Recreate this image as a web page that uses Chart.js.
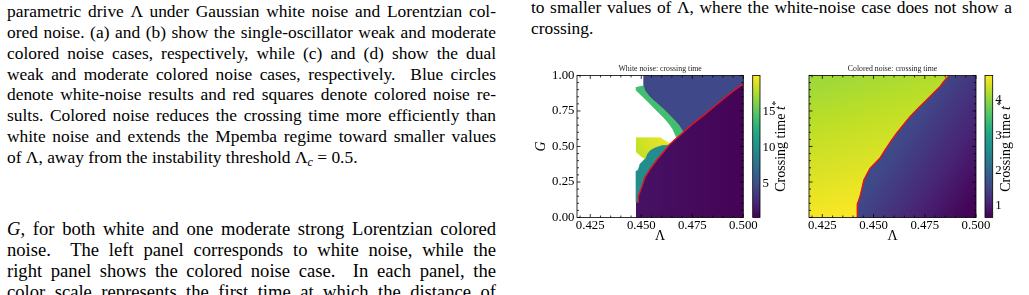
<!DOCTYPE html>
<html><head><meta charset="utf-8">
<script src="https://cdn.jsdelivr.net/npm/chart.js@4.4.1/dist/chart.umd.min.js"></script>
<style>
html,body{margin:0;padding:0;background:#fff;}
body{width:1029px;height:295px;overflow:hidden;position:relative;font-family:"Liberation Serif","Times New Roman",serif;color:#000;}
.blk{position:absolute;line-height:20.85px;}
.blk div{height:20.85px;white-space:nowrap;}
sub{font-size:70%;line-height:0;vertical-align:-0.25em;}
canvas{position:absolute;}
</style></head><body>

<div class="blk" style="left:7px;top:1px;width:489px;font-size:17.4px">
<div class="j">parametric drive Λ under Gaussian white noise and Lorentzian col-</div>
<div class="j">ored noise. (a) and (b) show the single-oscillator weak and moderate</div>
<div class="j">colored noise cases, respectively, while (c) and (d) show the dual</div>
<div class="j">weak and moderate colored noise cases, respectively.&nbsp; Blue circles</div>
<div class="j">denote white-noise results and red squares denote colored noise re-</div>
<div class="j">sults. Colored noise reduces the crossing time more efficiently than</div>
<div class="j">white noise and extends the Mpemba regime toward smaller values</div>
<div class="e">of Λ, away from the instability threshold Λ<sub><i>c</i></sub> = 0.5.</div>
</div>

<div class="blk" style="left:7px;top:219.4px;width:489px;font-size:18.6px">
<div class="j"><i>G</i>, for both white and one moderate strong Lorentzian colored</div>
<div class="j">noise.&nbsp; The left panel corresponds to white noise, while the</div>
<div class="j">right panel shows the colored noise case.&nbsp; In each panel, the</div>
<div class="j">color scale represents the first time at which the distance of</div>
</div>

<div class="blk" style="left:531px;top:-3.3px;width:481px;font-size:17.4px">
<div class="j">to smaller values of Λ, where the white-noise case does not show a</div>
<div class="e">crossing.</div>
</div>

<canvas id="cWhite" width="232" height="190" style="left:528px;top:60px"></canvas>
<canvas id="cWhiteBar" width="52" height="190" style="left:748px;top:60px"></canvas>
<canvas id="cColored" width="200" height="190" style="left:798px;top:60px"></canvas>
<canvas id="cColoredBar" width="49" height="190" style="left:980px;top:60px"></canvas>

<script>
// justify each line exactly to its column width (no wrapping)
document.querySelectorAll('.j').forEach(el => {
  const W = el.parentElement.clientWidth;
  const r = document.createRange(); r.selectNodeContents(el);
  const w = r.getBoundingClientRect().width;
  const n = (el.textContent.match(/[ \u00a0]/g) || []).length;
  if (n > 0) el.style.wordSpacing = ((W - w) / n) + 'px';
});

// ---------------- data ----------------
const lambdaRange = [0.4185, 0.5];
const gRange = [0, 1];
const lambdaTicks = [0.425, 0.450, 0.475, 0.500];
const gTicks = [0.00, 0.25, 0.50, 0.75, 1.00];
const whiteBarTicks = [5, 10, 15];
const coloredBarTicks = [1, 2, 3, 4];
const whiteTRange = [0.35, 20.0];
const coloredTRange = [0.67, 4.69];

// White noise: crossing boundary (red line)
const whiteEdgeLam = [0.4485, 0.4485, 0.4502, 0.4518, 0.4543, 0.4576, 0.4608, 0.4641, 0.4674, 0.4706, 0.4755, 0.4804, 0.4853, 0.4902, 0.4943, 0.4987, 0.5000];
const whiteEdgeG   = [0.107, 0.150, 0.213, 0.283, 0.341, 0.405, 0.459, 0.518, 0.560, 0.600, 0.663, 0.717, 0.776, 0.834, 0.882, 0.928, 0.935];
// White noise regions (Λ, G outlines) and crossing times t*
const whiteFastLamLeft = 0.4474;
const whiteFastT = [1.3, 0.45];           // purple region, left -> right
const whiteBlueLam = [0.4510, 0.5000, 0.5000, 0.4987, 0.4943, 0.4902, 0.4853, 0.4804, 0.4755, 0.4706, 0.4686, 0.4665, 0.4641, 0.4608, 0.4576, 0.4543, 0.4518, 0.4510];
const whiteBlueG   = [1.000, 1.000, 0.935, 0.928, 0.882, 0.834, 0.776, 0.717, 0.663, 0.600, 0.646, 0.682, 0.717, 0.764, 0.804, 0.846, 0.893, 0.925];
const whiteBlueT = [4.6];
const whiteGreenLam = [0.4476, 0.4476, 0.4502, 0.4527, 0.4559, 0.4592, 0.4616, 0.4637, 0.4654, 0.4665, 0.4674, 0.4706, 0.4686, 0.4665, 0.4641, 0.4608, 0.4576, 0.4543, 0.4518, 0.4510];
const whiteGreenG   = [0.918, 0.893, 0.858, 0.823, 0.776, 0.729, 0.694, 0.658, 0.623, 0.588, 0.560, 0.600, 0.646, 0.682, 0.717, 0.764, 0.804, 0.846, 0.893, 0.930];
const whiteGreenT = [14.0];
const whiteTealLam = [0.4474, 0.4474, 0.4485, 0.4494, 0.4518, 0.4527, 0.4543, 0.4567, 0.4600, 0.4625, 0.4641, 0.4608, 0.4576, 0.4543, 0.4518, 0.4502, 0.4485, 0.4485];
const whiteTealG   = [0.107, 0.325, 0.335, 0.377, 0.412, 0.447, 0.475, 0.494, 0.511, 0.513, 0.518, 0.459, 0.405, 0.341, 0.283, 0.213, 0.150, 0.107];
const whiteTealT = [9.8];
const whiteYellowLam = [0.4474, 0.4595, 0.4608, 0.4625, 0.4641, 0.4625, 0.4600, 0.4567, 0.4543, 0.4527, 0.4518, 0.4500, 0.4474];
const whiteYellowG   = [0.562, 0.562, 0.548, 0.534, 0.518, 0.513, 0.511, 0.494, 0.475, 0.447, 0.412, 0.430, 0.463];
const whiteYellowT = [18.2, 19.6];

// Colored noise: crossing boundary (red line)
const coloredEdgeLam = [0.4421, 0.4421, 0.4434, 0.4442, 0.4453, 0.4470, 0.4483, 0.4507, 0.4531, 0.4556, 0.4589, 0.4613, 0.4645, 0.4678, 0.4718, 0.4759, 0.4792, 0.4824, 0.4849, 0.4870];
const coloredEdgeG   = [0.000, 0.095, 0.147, 0.194, 0.264, 0.311, 0.346, 0.382, 0.417, 0.475, 0.546, 0.593, 0.651, 0.710, 0.769, 0.827, 0.875, 0.921, 0.968, 1.000];
const coloredSlowT = [4.12, 4.68];   // left region: top-left -> bottom near edge
const coloredFastT = [1.6, 0.72];    // right region: near edge -> far right

// ---------------- helpers ----------------
const FONT = '"Liberation Serif", "Times New Roman", serif';
Chart.defaults.font.family = FONT;
Chart.defaults.color = '#000';

const VIRIDIS = ['#440154','#482475','#414487','#355f8d','#2a788e','#21918c','#22a884','#44bf70','#7ad151','#bddf26','#fde725'];
function hex(h){return [parseInt(h.slice(1,3),16),parseInt(h.slice(3,5),16),parseInt(h.slice(5,7),16)];}
function viridis(t){
  t = Math.max(0, Math.min(1, t));
  const n = VIRIDIS.length - 1;
  const i = Math.min(n - 1, Math.floor(t * n));
  const f = t * n - i;
  const a = hex(VIRIDIS[i]), b = hex(VIRIDIS[i + 1]);
  return 'rgb(' + a.map((v, k) => Math.round(v + (b[k] - v) * f)).join(',') + ')';
}
function tColor(v, r){ return viridis((v - r[0]) / (r[1] - r[0])); }
function pts(lams, gs){ return lams.map((x, i) => ({x, y: gs[i]})); }

function gradFill(l0, g0, l1, g1, t0, t1, range){
  return (c) => {
    const ch = c.chart, xs = ch.scales.x, ys = ch.scales.y;
    if (!ch.chartArea || !xs || !ys) return tColor(t0, range);
    const gr = ch.ctx.createLinearGradient(xs.getPixelForValue(l0), ys.getPixelForValue(g0), xs.getPixelForValue(l1), ys.getPixelForValue(g1));
    for (let k = 0; k <= 10; k++){ const f = k / 10; gr.addColorStop(f, tColor(t0 + (t1 - t0) * f, range)); }
    return gr;
  };
}
function region(lams, gs, color, order){
  return {data: pts(lams, gs), fill: 'shape', backgroundColor: color, borderColor: color, borderWidth: 0.6,
          pointRadius: 0, tension: 0, order};
}
function edge(lams, gs){
  return {data: pts(lams, gs), fill: false, borderColor: '#e3121f', borderWidth: 1.4, pointRadius: 0, tension: 0, order: 0};
}

const frame = {
  id: 'frame',
  afterDatasetsDraw(chart, args, o){
    if (!o || !o.on) return;
    const {ctx, chartArea: r} = chart; const xs = chart.scales.x, ys = chart.scales.y;
    ctx.save(); ctx.strokeStyle = '#000'; ctx.lineWidth = 0.8; ctx.beginPath();
    const seg = (a, b, c, d) => { ctx.moveTo(a, b); ctx.lineTo(c, d); };
    for (let k = 0; k <= 20; k++){
      const v = 0.400 + k * 0.005; if (v < xs.min - 1e-9 || v > xs.max + 1e-9) continue;
      const p = xs.getPixelForValue(v); const L = lambdaTicks.some(t => Math.abs(t - v) < 1e-6) ? 3.5 : 2;
      seg(p, r.bottom, p, r.bottom - L); seg(p, r.top, p, r.top + L);
    }
    for (let k = 0; k <= 20; k++){
      const v = k * 0.05; const p = ys.getPixelForValue(v); const L = gTicks.some(t => Math.abs(t - v) < 1e-6) ? 3.5 : 2;
      seg(r.left, p, r.left + L, p); seg(r.right, p, r.right - L, p);
    }
    ctx.stroke(); ctx.strokeRect(r.left, r.top, r.width, r.height); ctx.restore();
  }
};

const cbar = {
  id: 'cbar',
  afterDraw(chart, args, o){
    if (!o || !o.label) return;
    const {ctx, chartArea: r} = chart;
    ctx.save(); ctx.strokeStyle = '#000'; ctx.lineWidth = 0.8;
    ctx.strokeRect(r.left, r.top, r.width, r.height);
    const f = o.size;
    ctx.translate(o.x, (r.top + r.bottom) / 2); ctx.rotate(-Math.PI / 2);
    ctx.font = f + 'px ' + FONT; const w1 = ctx.measureText(o.label).width;
    ctx.font = 'italic ' + f + 'px ' + FONT; const w2 = ctx.measureText(o.sym).width;
    ctx.font = (f * 0.7) + 'px ' + FONT; const w3 = ctx.measureText(o.sup).width;
    let cx = -(w1 + w2 + w3) / 2;
    ctx.fillStyle = '#000'; ctx.textBaseline = 'middle'; ctx.textAlign = 'left';
    ctx.font = f + 'px ' + FONT; ctx.fillText(o.label, cx, 0); cx += w1;
    ctx.font = 'italic ' + f + 'px ' + FONT; ctx.fillText(o.sym, cx, 0); cx += w2;
    ctx.font = (f * 0.7) + 'px ' + FONT; ctx.fillText(o.sup, cx + 0.5, -f * 0.38);
    ctx.restore();
  }
};

function mainChart(id, title, datasets, showY, padding){
  return new Chart(document.getElementById(id), {
    type: 'line',
    data: {datasets},
    options: {
      responsive: false, animation: false, devicePixelRatio: 1, events: [],
      layout: {padding},
      plugins: {
        legend: {display: false}, tooltip: {enabled: false},
        title: {display: true, fullSize: false, text: title, color: '#222', font: {size: 7.8, family: FONT, weight: 'normal'}, padding: {top: 4.5, bottom: 1.6}},
        frame: {on: true}
      },
      scales: {
        x: {
          type: 'linear', min: lambdaRange[0], max: lambdaRange[1],
          grid: {display: false, drawTicks: false}, border: {display: false},
          afterBuildTicks: s => { s.ticks = lambdaTicks.map(v => ({value: v})); },
          afterFit: s => { s.height = 32.5; },
          ticks: {font: {size: 12.8}, padding: 0.5, maxRotation: 0, autoSkip: false, color: '#000', callback: v => Number(v).toFixed(3)},
          title: {display: true, text: 'Λ', font: {size: 14}, color: '#000', padding: {top: 0, bottom: 5.5}}
        },
        y: {
          type: 'linear', min: gRange[0], max: gRange[1], display: showY,
          grid: {display: false, drawTicks: false}, border: {display: false},
          afterBuildTicks: s => { s.ticks = gTicks.map(v => ({value: v})); },
          afterFit: s => { s.width = showY ? 49 : 0; },
          ticks: {font: {size: 12.8}, padding: 2.5, color: '#000', callback: v => Number(v).toFixed(2)},
          title: {display: true, text: 'G', font: {size: 14, style: 'italic'}, color: '#000', padding: {top: 5, bottom: 0}}
        }
      }
    },
    plugins: [frame]
  });
}

function barChart(id, range, ticks, padLeft, width, labelX){
  return new Chart(document.getElementById(id), {
    type: 'bar',
    data: {labels: ['t'], datasets: [{
      data: [[range[0], range[1]]], barPercentage: 1, categoryPercentage: 1, borderWidth: 0,
      backgroundColor: (c) => {
        const ch = c.chart; const r = ch.chartArea; if (!r) return VIRIDIS[5];
        const g = ch.ctx.createLinearGradient(0, r.bottom, 0, r.top);
        VIRIDIS.forEach((col, i) => g.addColorStop(i / (VIRIDIS.length - 1), col));
        return g;
      }
    }]},
    options: {
      responsive: false, animation: false, devicePixelRatio: 1, events: [],
      layout: {padding: {left: padLeft, top: 15.5, bottom: 32.5, right: 0}},
      plugins: {legend: {display: false}, tooltip: {enabled: false},
        cbar: {label: 'Crossing time ', sym: 't', sup: '*', size: 14, x: labelX}},
      scales: {
        x: {display: false},
        y: {position: 'right', min: range[0], max: range[1],
            grid: {display: false, drawTicks: false}, border: {display: false},
            afterBuildTicks: s => { s.ticks = ticks.map(v => ({value: v})); },
            afterFit: s => { s.width = width; },
            ticks: {font: {size: 12.8}, padding: 2.5, color: '#000'}}
      }
    },
    plugins: [cbar]
  });
}

// ---------------- white-noise panel ----------------
const revLam = whiteEdgeLam.slice().reverse(), revG = whiteEdgeG.slice().reverse();
const whiteFastLam = [whiteFastLamLeft, lambdaRange[1]].concat(revLam, [whiteFastLamLeft]);
const whiteFastG = [0, 0].concat(revG, [whiteEdgeG[0]]);

mainChart('cWhite', 'White noise: crossing time', [
  edge(whiteEdgeLam, whiteEdgeG),
  region(whiteYellowLam, whiteYellowG, gradFill(0.4474, 0.45, 0.4641, 0.56, whiteYellowT[0], whiteYellowT[1], whiteTRange), 1),
  region(whiteTealLam, whiteTealG, tColor(whiteTealT[0], whiteTRange), 2),
  region(whiteGreenLam, whiteGreenG, tColor(whiteGreenT[0], whiteTRange), 3),
  region(whiteBlueLam, whiteBlueG, tColor(whiteBlueT[0], whiteTRange), 4),
  region(whiteFastLam, whiteFastG, gradFill(0.4474, 0.5, 0.5, 0.5, whiteFastT[0], whiteFastT[1], whiteTRange), 5)
], true, {left: 0, right: 16.7, top: 0, bottom: 0});

barChart('cWhiteBar', whiteTRange, whiteBarTicks, 4.7, 40, 33.7);

// ---------------- colored-noise panel ----------------
const coloredSlowLam = [lambdaRange[0]].concat(coloredEdgeLam, [lambdaRange[0]]);
const coloredSlowG = [0].concat(coloredEdgeG, [1]);
const coloredFastLam = [lambdaRange[1], lambdaRange[1]].concat(coloredEdgeLam);
const coloredFastG = [1, 0].concat(coloredEdgeG);

mainChart('cColored', 'Colored noise: crossing time', [
  edge(coloredEdgeLam, coloredEdgeG),
  region(coloredFastLam, coloredFastG, gradFill(0.4589, 0.546, 0.5, 0.16, coloredFastT[0], coloredFastT[1], coloredTRange), 1),
  region(coloredSlowLam, coloredSlowG, gradFill(0.425, 0.95, 0.4421, 0.02, coloredSlowT[0], coloredSlowT[1], coloredTRange), 2)
], false, {left: 11, right: 22, top: 0, bottom: 0});

barChart('cColoredBar', coloredTRange, coloredBarTicks, 5, 36.3, 26.7);
</script>
</body></html>
